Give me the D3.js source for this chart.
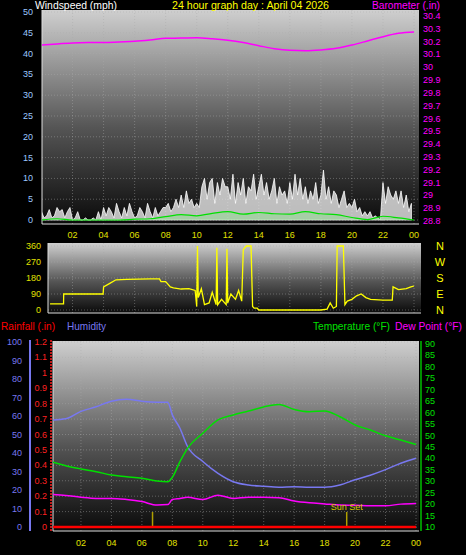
<!DOCTYPE html>
<html><head><meta charset="utf-8">
<script src="https://cdn.jsdelivr.net/npm/d3@7"></script>
<style>body{margin:0;background:#000}svg{display:block}text{font-family:"Liberation Sans",Arial,sans-serif}</style>
</head><body>
<script>
const hourTicks=[2,4,6,8,10,12,14,16,18,20,22,24];
const tickLabel=h=>h===24?"00":String(h).padStart(2,"0");
const windTicks=[0,5,10,15,20,25,30,35,40,45,50];
const baroTicks=[28.8,28.9,29,29.1,29.2,29.3,29.4,29.5,29.6,29.7,29.8,29.9,30,30.1,30.2,30.3,30.4];
const dirTicks=[0,90,180,270,360];
const humTicks=[0,10,20,30,40,50,60,70,80,90,100];
const rainTicks=[0,0.1,0.2,0.3,0.4,0.5,0.6,0.7,0.8,0.9,1,1.1,1.2];
const tempTicks=[10,15,20,25,30,35,40,45,50,55,60,65,70,75,80,85,90];
const baroHours=[0,1,2,3,4,5,6,7,8,9,10,11,12,13,14,15,16,17,18,19,20,21,22,23,24];
const baro=[30.151,30.16,30.167,30.17,30.17,30.175,30.18,30.19,30.203,30.205,30.208,30.2,30.188,30.17,30.146,30.123,30.11,30.107,30.113,30.126,30.151,30.183,30.216,30.242,30.252];
// gusts every 10 minutes
const gust=[2,0.5,1,2.5,0.5,1, 3,2,2.5,0.5,2,3, 0,0.5,2,0,0,0.5, 0,0,0.5,0,2,0, 3,1,3,2,0.5,4, 2,0.5,3,1,4,2,
 0.5,1,3,2,0.5,4, 2,0.5,3,1,2,3, 3,4,2,3,5,3, 6,3,7,4,5,3, 4,3,8,10,5,9, 10,4,9,6,10,8,
 8,5,11,4,9,6, 10,4,8,7,11,5, 8,11,6,9,5,7, 10,4,8,6,7,4, 9,5,11,6,10,5, 8,4,7,5,9,4,
 6,12,5,8,4,7, 6,3,5,7,3,4, 3,5,2,3,1,2, 1,2,0.5,1,0.5,0, 9,4,8,6,5,7, 4,7,3,6,2,4];
const avgHours=[0,1,2,3,4,5,6,7,8,9,10,11,12,13,14,15,16,17,18,19,20,21,22,23,24];
const avgWind=[0,0.3,0,0,0,0,0.2,0.3,0.8,1.3,1,1.6,2,1.4,1.8,1.5,1.4,2,1.5,1.3,0.6,0.1,0.9,0.5,0];
const dirHours=[0.55,1.42,1.43,3.97,4.0,4.4,4.8,5.5,7.0,7.6,7.7,8.0,8.3,8.5,9.0,9.5,9.9,10.0,10.05,10.1,10.3,10.5,10.8,11.0,11.25,11.3,11.35,11.6,11.9,11.95,12.0,12.2,12.5,12.7,12.9,13.0,13.2,13.5,13.6,13.7,13.9,14.0,18.0,18.4,18.6,18.8,19.0,19.05,19.45,19.55,19.7,20.0,20.3,20.6,20.9,21.2,22.0,22.6,22.65,23.0,23.5,23.8,24.0];
const dirDeg=[35,35,90,90,130,150,170,172,175,175,160,160,130,125,118,120,110,20,360,70,120,30,40,100,30,350,30,60,30,345,40,90,60,110,50,340,360,360,20,10,10,0,0,5,40,10,20,360,360,30,50,60,80,90,70,60,55,55,130,115,120,130,135];
const envHours=[0,1,2,3,4,5,6,7,7.7,8,8.5,9,10,11,12,13,14,15,16,17,18,19,20,21,22,23,24];
const humidity=[57.8,58.5,62.5,65,68,69,68,67.5,67.5,60.6,53.4,43.5,35.4,29,24.5,22.7,22,21.5,21.7,21.5,21.5,22.7,25.5,28,31,34.5,37.2];
const temperature=[38.6,36.8,35.4,34.2,32.7,32,31.3,30.1,29.8,31.7,38.6,44.4,51,56.8,59,60.7,62.5,63.6,61.4,60.4,60.7,58.2,54.6,52.4,49.9,48,46.1];
const dewpoint=[24.3,23.8,23,22.5,22.5,22,21.1,19.6,19.8,22,22.5,23,22,23.9,22.5,23,23,22.8,21.4,20.6,20.1,19.6,19.5,19.3,19.3,20,20.3];
const rainHours=[0,24];const rain=[0,0];
const sunEvents=[6.7,19.45];

const W=466,H=555;
const svg=d3.select("body").append("svg").attr("width",W).attr("height",H);
const defs=svg.append("defs");
const g=defs.append("linearGradient").attr("id","bg").attr("x1",0).attr("y1",0).attr("x2",0).attr("y2",1);
g.append("stop").attr("offset",0).attr("stop-color","#cfcfcf");
g.append("stop").attr("offset",0.55).attr("stop-color","#555");
g.append("stop").attr("offset",1).attr("stop-color","#0a0a0a");

function panel(x0,x1,y0,y1,xs,ys,yt,id){
  svg.append("rect").attr("x",x0).attr("y",y0).attr("width",x1-x0).attr("height",y1-y0).attr("fill","url(#bg)");
  defs.append("clipPath").attr("id",id).append("rect").attr("x",x0).attr("y",y0).attr("width",x1-x0).attr("height",y1-y0);
  const gr=svg.append("g").attr("stroke","#aaa").attr("stroke-opacity",0.45).attr("stroke-dasharray","1,2");
  hourTicks.forEach(h=>gr.append("line").attr("x1",xs(h)).attr("x2",xs(h)).attr("y1",y0).attr("y2",y1));
  yt.forEach(v=>gr.append("line").attr("x1",x0).attr("x2",x1).attr("y1",ys(v)).attr("y2",ys(v)));
  svg.append("line").attr("x1",x0).attr("x2",x0).attr("y1",y0).attr("y2",y1).attr("stroke","#ddd");
  svg.append("line").attr("x1",x0).attr("x2",x1).attr("y1",y1).attr("y2",y1).attr("stroke","#ddd");
  return svg.append("g").attr("clip-path",`url(#${id})`);
}
function xlabels(xs,y){
  svg.append("g").selectAll("text").data(hourTicks).join("text").attr("x",d=>xs(d)).attr("y",y)
   .attr("text-anchor","middle").attr("font-size",9).attr("fill","#e0e000").text(tickLabel);
}
function ylabels(ys,ticks,x,anchor,color,fmt){
  svg.append("g").selectAll("text").data(ticks).join("text").attr("x",x).attr("y",d=>ys(d)+3)
   .attr("text-anchor",anchor).attr("font-size",9).attr("fill",color).text(fmt||(d=>d));
}
function title(x,y,len,color,txt,fs){
  svg.append("text").attr("x",x).attr("y",y).attr("font-size",fs||11).attr("fill",color)
   .attr("textLength",len).attr("lengthAdjust","spacingAndGlyphs").text(txt);
}
// ---------- Top panel
const x1=d3.scaleLinear().domain([0,24]).range([41.5,414]);
const yW=d3.scaleLinear().domain([0,50]).range([220,12]);
const yB=d3.scaleLinear().domain([28.8,30.4]).range([219,13]);
const p1=panel(42,419,10,224,x1,yW,windTicks,"c1");
p1.append("path").datum(gust).attr("fill","#e8e8e8").attr("fill-opacity",0.8).attr("stroke","#fff").attr("stroke-width",0.8)
 .attr("d",d3.area().x((d,i)=>x1(i/6)).y0(yW(0)).y1(d=>yW(d)).curve(d3.curveLinear));
p1.append("path").datum(avgWind).attr("fill","#8fe08f").attr("fill-opacity",0.5)
 .attr("d",d3.area().x((d,i)=>x1(avgHours[i])).y0(yW(0)).y1(d=>yW(d)).curve(d3.curveMonotoneX));
p1.append("path").datum(avgWind).attr("fill","none").attr("stroke","#00e000").attr("stroke-width",1.2)
 .attr("d",d3.line().x((d,i)=>x1(avgHours[i])).y(d=>yW(d)).curve(d3.curveMonotoneX));
p1.append("path").datum(baro).attr("fill","none").attr("stroke","#ff00ff").attr("stroke-width",1.5)
 .attr("d",d3.line().x((d,i)=>x1(baroHours[i])).y(d=>yB(d)).curve(d3.curveMonotoneX));
ylabels(yW,windTicks,33,"end","#9cc8ff");
ylabels(yB.copy().range([221,16]),baroTicks,423,"start","#ff00ff",d=>d===29||d===30?d:d.toFixed(1));
xlabels(x1,238);
title(35,9,82,"#fff","Windspeed (mph)",10);
title(172,9,157,"#ffff00","24 hour graph day : April 04 2026",10);
title(372,9,68,"#ff00ff","Barometer (.in)",10);
// ---------- Middle panel
const yD=d3.scaleLinear().domain([0,360]).range([310,246]);
const p2=panel(48,421,243,313,x1,yD,dirTicks,"c2");
p2.append("path").datum(dirDeg).attr("fill","none").attr("stroke","#ffff00").attr("stroke-width",1.3)
 .attr("d",d3.line().x((d,i)=>x1(dirHours[i])).y(d=>yD(d)));
ylabels(yD,dirTicks,41,"end","#e0e000");
svg.append("g").selectAll("text").data(["N","W","S","E","N"]).join("text").attr("x",440).attr("text-anchor","middle")
 .attr("y",(d,i)=>yD(360-i*90)+4).attr("font-size",11).attr("fill","#ffff00").text(d=>d);
// ---------- Bottom panel
const x3=d3.scaleLinear().domain([0,24]).range([50.5,416]);
const yH=d3.scaleLinear().domain([0,100]).range([527,342]);
const yR=d3.scaleLinear().domain([0,1.2]).range([527,342]);
const yT=d3.scaleLinear().domain([10,90]).range([527,344]);
const p3=panel(53,419,341,531,x3,yR,rainTicks,"c3");
p3.append("path").datum(humidity).attr("fill","none").attr("stroke","#7878f0").attr("stroke-width",1.5)
 .attr("d",d3.line().x((d,i)=>x3(envHours[i])).y(d=>yH(d)).curve(d3.curveMonotoneX));
p3.append("path").datum(temperature).attr("fill","none").attr("stroke","#00e000").attr("stroke-width",1.5)
 .attr("d",d3.line().x((d,i)=>x3(envHours[i])).y(d=>yT(d)).curve(d3.curveMonotoneX));
p3.append("path").datum(dewpoint).attr("fill","none").attr("stroke","#ff00ff").attr("stroke-width",1.5)
 .attr("d",d3.line().x((d,i)=>x3(envHours[i])).y(d=>yT(d)).curve(d3.curveMonotoneX));
p3.append("g").selectAll("line").data(sunEvents).join("line").attr("x1",d=>x3(d)).attr("x2",d=>x3(d))
 .attr("y1",512).attr("y2",527).attr("stroke","#b0a000").attr("stroke-width",1.5);
p3.append("path").datum(rain).attr("fill","none").attr("stroke","#ff0000").attr("stroke-width",2.5)
 .attr("d",d3.line().x((d,i)=>x3(rainHours[i])).y(d=>yR(d)));
svg.append("text").attr("x",x3(sunEvents[1])-16).attr("y",510).attr("font-size",9).attr("fill","#d8c800").text("Sun Set");
svg.append("line").attr("x1",30).attr("x2",30).attr("y1",340).attr("y2",531).attr("stroke","#7878f0").attr("stroke-width",2);
svg.append("line").attr("x1",51).attr("x2",51).attr("y1",340).attr("y2",531).attr("stroke","#ff2020").attr("stroke-width",1.5).attr("stroke-dasharray","2,1");
svg.append("line").attr("x1",421).attr("x2",421).attr("y1",341).attr("y2",531).attr("stroke","#00c000").attr("stroke-width",1.5);
ylabels(yH,humTicks,22,"end","#7878f0");
ylabels(yR,rainTicks,47,"end","#ff2020");
ylabels(yT,tempTicks,425,"start","#00e000");
xlabels(x3,546);
title(1,330,54,"#ff0000","Rainfall (.in)");
title(67,330,39,"#7878f0","Humidity");
title(313,330,77,"#00e000","Temperature (°F)");
title(395,330,67,"#ff00ff","Dew Point (°F)");
</script>
</body></html>
